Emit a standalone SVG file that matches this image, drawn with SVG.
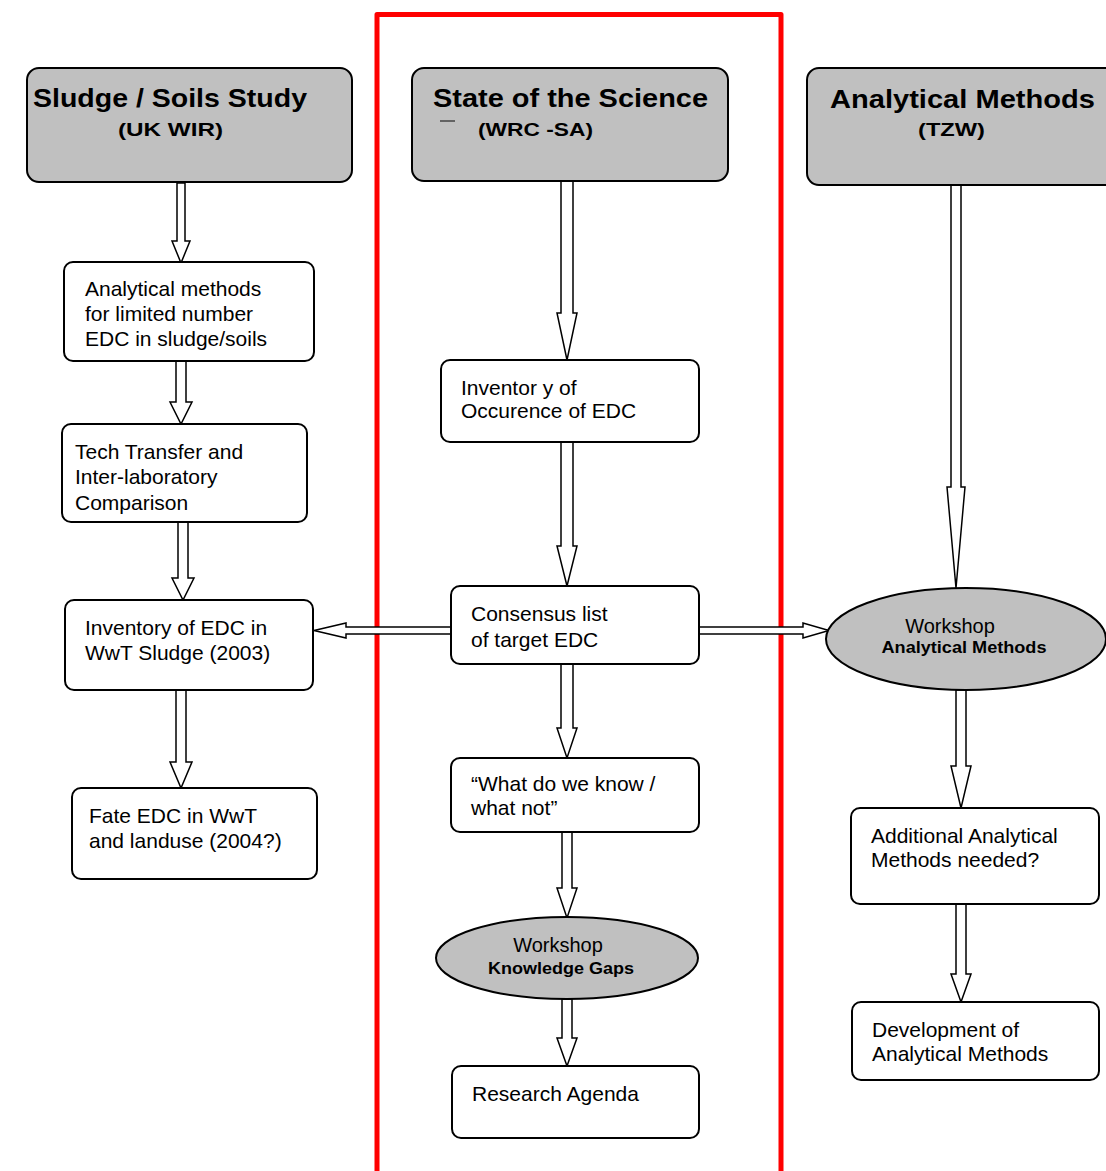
<svg xmlns="http://www.w3.org/2000/svg" width="1106" height="1171" viewBox="0 0 1106 1171">
<style>
.hdr{fill:#c0c0c0;stroke:#000;stroke-width:2}
.box{fill:#fff;stroke:#000;stroke-width:2}
.ell{fill:#c0c0c0;stroke:#000;stroke-width:2}
.arr{fill:#fff;stroke:#000;stroke-width:1.5;stroke-linejoin:miter}
text{font-family:"Liberation Sans",Arial,sans-serif;fill:#000}
.t{font-size:21px}
.h1{font-size:26px;font-weight:bold}
.h2{font-size:19px;font-weight:bold}
.w{font-size:20px}
.wb{font-size:16px;font-weight:bold}
</style>
<rect width="1106" height="1171" fill="#fff"/>
<path d="M377,1175 L377,14.5 L781,14.5 L781,1175" fill="none" stroke="#ff0000" stroke-width="5" stroke-linejoin="round"/>
<g id="connectors">
<polygon class="arr" points="177,183 185,183 185,241 190,241 181,263 172,241 177,241"/>
<polygon class="arr" points="176,361 186,361 186,402 192,402 181,424 170,402 176,402"/>
<polygon class="arr" points="178,522 188,522 188,578 194,578 183,600 172,578 178,578"/>
<polygon class="arr" points="176,690 186,690 186,762 192,762 181,788 170,762 176,762"/>
<polygon class="arr" points="561,181 573,181 573,313 577,313 567,360 557,313 561,313"/>
<polygon class="arr" points="561,442 573,442 573,546 577,546 567,586 557,546 561,546"/>
<polygon class="arr" points="561,664 573,664 573,728 577,728 567,758 557,728 561,728"/>
<polygon class="arr" points="562,832 572,832 572,888 577,888 567,918 557,888 562,888"/>
<polygon class="arr" points="562,999 572,999 572,1038 577,1038 567,1066 557,1038 562,1038"/>
<polygon class="arr" points="951,185 961,185 961,487 965,487 956,588 947,487 951,487"/>
<polygon class="arr" points="956,690 966,690 966,766 971,766 961,808 951,766 956,766"/>
<polygon class="arr" points="956,904 966,904 966,974 971,974 961,1002 951,974 956,974"/>
<polygon class="arr" points="452,627 452,634 346,634 346,638 314,630.5 346,623 346,627"/>
<polygon class="arr" points="699,627 699,634 803,634 803,638 829,630.5 803,623 803,627"/>
</g>
<g id="hdr-sludge">
<rect class="hdr" x="27" y="68" width="325" height="114" rx="12"/>
<text class="h1" x="33" y="107" textLength="274" lengthAdjust="spacingAndGlyphs">Sludge / Soils Study</text>
<text class="h2" x="118" y="136" textLength="105" lengthAdjust="spacingAndGlyphs">(UK WIR)</text>
</g>
<g id="hdr-state">
<rect class="hdr" x="412" y="68" width="316" height="113" rx="12"/>
<text class="h1" x="433" y="107" textLength="275" lengthAdjust="spacingAndGlyphs">State of the Science</text>
<line x1="440" y1="121" x2="455" y2="121" stroke="#444" stroke-width="1.5"/>
<text class="h2" x="478" y="136" textLength="115" lengthAdjust="spacingAndGlyphs">(WRC -SA)</text>
</g>
<g id="hdr-analytical">
<rect class="hdr" x="807" y="68" width="314" height="117" rx="12"/>
<text class="h1" x="830" y="108" textLength="265" lengthAdjust="spacingAndGlyphs">Analytical Methods</text>
<text class="h2" x="918" y="136" textLength="67" lengthAdjust="spacingAndGlyphs">(TZW)</text>
</g>
<g id="n-analytical-methods">
<rect class="box" x="64" y="262" width="250" height="99" rx="9"/>
<text class="t" x="85" y="296">Analytical  methods</text>
<text class="t" x="85" y="321">for limited number</text>
<text class="t" x="85" y="346">EDC in sludge/soils</text>
</g>
<g id="n-tech-transfer">
<rect class="box" x="62" y="424" width="245" height="98" rx="9"/>
<text class="t" x="75" y="459">Tech Transfer and</text>
<text class="t" x="75" y="484">Inter-laboratory</text>
<text class="t" x="75" y="510">Comparison</text>
</g>
<g id="n-inventory-sludge">
<rect class="box" x="65" y="600" width="248" height="90" rx="9"/>
<text class="t" x="85" y="635">Inventory of EDC in</text>
<text class="t" x="85" y="660">WwT Sludge (2003)</text>
</g>
<g id="n-fate">
<rect class="box" x="72" y="788" width="245" height="91" rx="9"/>
<text class="t" x="89" y="823">Fate EDC in WwT</text>
<text class="t" x="89" y="848">and landuse (2004?)</text>
</g>
<g id="n-inventory-occurence">
<rect class="box" x="441" y="360" width="258" height="82" rx="9"/>
<text class="t" x="461" y="395">Inventor y of</text>
<text class="t" x="461" y="418">Occurence of EDC</text>
</g>
<g id="n-consensus">
<rect class="box" x="451" y="586" width="248" height="78" rx="9"/>
<text class="t" x="471" y="621">Consensus list</text>
<text class="t" x="471" y="647">of target EDC</text>
</g>
<g id="n-what">
<rect class="box" x="451" y="758" width="248" height="74" rx="9"/>
<text class="t" x="471" y="791">“What do we know /</text>
<text class="t" x="471" y="815">what not”</text>
</g>
<g id="n-workshop-gaps">
<ellipse class="ell" cx="567" cy="958" rx="131" ry="41"/>
<text class="w" x="558" y="952" text-anchor="middle">Workshop</text>
<text class="wb" x="561" y="974" text-anchor="middle" textLength="146" lengthAdjust="spacingAndGlyphs">Knowledge Gaps</text>
</g>
<g id="n-research">
<rect class="box" x="452" y="1066" width="247" height="72" rx="9"/>
<text class="t" x="472" y="1101">Research Agenda</text>
</g>
<g id="n-workshop-analytical">
<ellipse class="ell" cx="966" cy="639" rx="140" ry="51"/>
<text class="w" x="950" y="633" text-anchor="middle">Workshop</text>
<text class="wb" x="964" y="653" text-anchor="middle" textLength="165" lengthAdjust="spacingAndGlyphs">Analytical Methods</text>
</g>
<g id="n-additional">
<rect class="box" x="851" y="808" width="248" height="96" rx="9"/>
<text class="t" x="871" y="843">Additional  Analytical</text>
<text class="t" x="871" y="867">Methods needed?</text>
</g>
<g id="n-development">
<rect class="box" x="852" y="1002" width="247" height="78" rx="9"/>
<text class="t" x="872" y="1037">Development of</text>
<text class="t" x="872" y="1061">Analytical Methods</text>
</g>
</svg>
